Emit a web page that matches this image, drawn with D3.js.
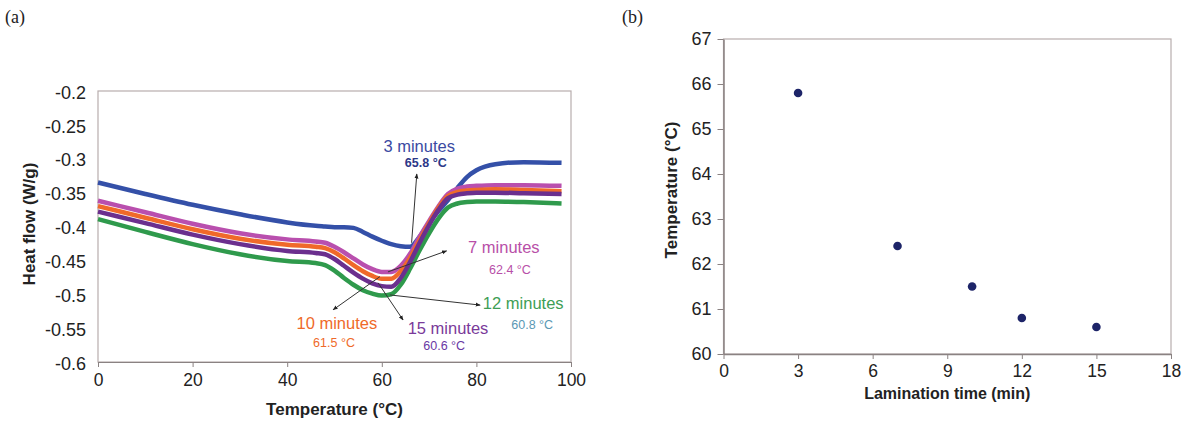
<html lang="en">
<head>
<meta charset="utf-8">
<title>DSC curves and peak temperature</title>
<script src="https://d3js.org/d3.v7.min.js"></script>
<style>
  body { margin: 0; background: #fff; }
  text { font-family: "Liberation Sans", Arial, sans-serif; fill: #222; }
  .panel { font-family: "Liberation Serif", "Times New Roman", serif; font-size: 18px; }
  .axis path, .axis line { stroke: #8a8282; }
  .border { fill: none; stroke: #b8adad; stroke-width: 1.2; }
</style>
</head>
<body>
<script>
// ---- data ----
var temps = [0, 10, 20, 30, 40, 46, 48, 50, 52, 54, 56, 58, 60, 62, 64, 66, 68, 70, 72, 74, 76, 78, 80, 84, 90, 98];
var min3  = [-0.335,-0.352,-0.368,-0.382,-0.394,-0.399,-0.400,-0.401,-0.401,-0.402,-0.408,-0.415,-0.421,-0.426,-0.429,-0.430,-0.415,-0.395,-0.377,-0.361,-0.343,-0.327,-0.317,-0.308,-0.305,-0.306];
var min7  = [-0.362,-0.379,-0.396,-0.410,-0.419,-0.422,-0.424,-0.430,-0.438,-0.447,-0.456,-0.463,-0.467,-0.467,-0.458,-0.440,-0.415,-0.392,-0.370,-0.352,-0.344,-0.341,-0.340,-0.339,-0.339,-0.340];
var min10 = [-0.370,-0.387,-0.404,-0.418,-0.427,-0.430,-0.432,-0.438,-0.447,-0.457,-0.466,-0.473,-0.477,-0.477,-0.466,-0.446,-0.420,-0.395,-0.372,-0.355,-0.349,-0.347,-0.346,-0.345,-0.346,-0.348];
var min15 = [-0.378,-0.395,-0.412,-0.426,-0.436,-0.439,-0.441,-0.448,-0.458,-0.468,-0.477,-0.484,-0.488,-0.489,-0.476,-0.452,-0.424,-0.398,-0.375,-0.358,-0.353,-0.351,-0.350,-0.350,-0.351,-0.352];
var min12 = [-0.389,-0.408,-0.426,-0.441,-0.451,-0.454,-0.457,-0.465,-0.476,-0.486,-0.494,-0.499,-0.502,-0.500,-0.486,-0.462,-0.435,-0.410,-0.388,-0.372,-0.366,-0.364,-0.363,-0.363,-0.364,-0.366];

var seriesNames  = ["12 minutes", "3 minutes", "7 minutes", "10 minutes", "15 minutes"];
var seriesValues = [min12, min3, min7, min10, min15];
var seriesColors = ["#2f9a4c", "#3450a8", "#b94fae", "#f0692a", "#6b2f8e"];

var heatTicks = [-0.6, -0.55, -0.5, -0.45, -0.4, -0.35, -0.3, -0.25, -0.2];
var tempTicks = [0, 20, 40, 60, 80, 100];

// lamination time vs peak temperature
var lamTime = [3, 7, 10, 12, 15];
var peakTemp = [65.8, 62.4, 61.5, 60.8, 60.6];
var lamTicks = [0, 3, 6, 9, 12, 15, 18];
var peakTicks = [60, 61, 62, 63, 64, 65, 66, 67];

// ---- svg ----
var w = 1185, h = 423;
var svg = d3.select("body").append("svg").attr("width", w).attr("height", h);

svg.append("defs").append("marker")
   .attr("id", "arrow")
   .attr("viewBox", "0 0 10 10")
   .attr("refX", 9).attr("refY", 5)
   .attr("markerWidth", 5).attr("markerHeight", 5)
   .attr("orient", "auto")
   .append("path").attr("d", "M0,1 L10,5 L0,9 z").attr("fill", "#222");

svg.append("text").attr("class", "panel").attr("x", 5).attr("y", 23).text("(a)");
svg.append("text").attr("class", "panel").attr("x", 622).attr("y", 23).text("(b)");

// ===== panel (a) =====
var xA = d3.scaleLinear().domain([0, 100]).range([98, 571]);
var yA = d3.scaleLinear().domain([-0.6, -0.2]).range([362, 91]);

svg.append("rect").attr("class", "border")
   .attr("x", xA(0)).attr("y", yA(-0.2))
   .attr("width", xA(100) - xA(0)).attr("height", yA(-0.6) - yA(-0.2));

svg.append("g").attr("class", "axis")
   .attr("transform", "translate(0," + yA(-0.6) + ")")
   .call(d3.axisBottom(xA).tickValues(tempTicks).tickSize(5).tickPadding(7).tickSizeOuter(0))
   .call(function(g) { g.selectAll("text").attr("font-size", "17.5px").attr("fill", "#222"); g.select(".domain").attr("stroke", "#888"); });

svg.append("g").attr("class", "axis")
   .attr("transform", "translate(" + xA(0) + ",0)")
   .call(d3.axisLeft(yA).tickValues(heatTicks).tickFormat(function(d) { return String(+d.toFixed(2)); }).tickSize(0).tickPadding(12))
   .call(function(g) { g.select(".domain").remove(); g.selectAll("text").attr("font-size", "18px").attr("fill", "#222").attr("dy", "0.4em"); });

var line = d3.line()
   .x(function(d) { return xA(d[0]); })
   .y(function(d) { return yA(d[1]); })
   .curve(d3.curveMonotoneX);

seriesValues.forEach(function(vals, i) {
  svg.append("path")
     .datum(temps.map(function(t, j) { return [t, vals[j]]; }))
     .attr("d", line)
     .attr("fill", "none")
     .attr("stroke", seriesColors[i])
     .attr("stroke-width", 4.5)
     .attr("stroke-linejoin", "round");
});

// annotations: arrow from curve to label, label and peak temperature
var notes = [
  { name: "3 minutes",  peak: "65.8 °C", c1: "#3b4aa2", c2: "#2d3888", from: [66.3, -0.424], to: [67.4, -0.3225], lab: [67.9, -0.281], val: [69.3, -0.306], bold: true },
  { name: "7 minutes",  peak: "62.4 °C", c1: "#b84fa8", c2: "#b84fa8", from: [61.3, -0.467], to: [73.7, -0.436], lab: [85.8, -0.430], val: [87.1, -0.463] },
  { name: "12 minutes", peak: "60.8 °C", c1: "#3e9e55", c2: "#5a98b4", from: [61.7, -0.501], to: [80.8, -0.516], lab: [89.9, -0.513], val: [91.8, -0.545] },
  { name: "10 minutes", peak: "61.5 °C", c1: "#ef6a2a", c2: "#ef6a2a", from: [59.6, -0.474], to: [49.7, -0.523], lab: [50.5, -0.543], val: [49.9, -0.571] },
  { name: "15 minutes", peak: "60.6 °C", c1: "#7a3a9a", c2: "#6a38a4", from: [59.2, -0.483], to: [64.5, -0.538], lab: [74.0, -0.550], val: [73.2, -0.576] }
];

notes.forEach(function(n) {
  svg.append("line")
     .attr("x1", xA(n.from[0])).attr("y1", yA(n.from[1]))
     .attr("x2", xA(n.to[0])).attr("y2", yA(n.to[1]))
     .attr("stroke", "#333").attr("stroke-width", 1)
     .attr("marker-end", "url(#arrow)");
  svg.append("text")
     .attr("x", xA(n.lab[0])).attr("y", yA(n.lab[1]))
     .attr("dy", "0.35em").attr("text-anchor", "middle")
     .attr("font-size", "16.5px").style("fill", n.c1)
     .text(n.name);
  svg.append("text")
     .attr("x", xA(n.val[0])).attr("y", yA(n.val[1]))
     .attr("dy", "0.35em").attr("text-anchor", "middle")
     .attr("font-size", "12.5px").attr("font-weight", n.bold ? "bold" : "normal").style("fill", n.c2)
     .text(n.peak);
});

svg.append("text")
   .attr("x", (xA(0) + xA(100)) / 2).attr("y", 415)
   .attr("text-anchor", "middle").attr("font-size", "17px").attr("font-weight", "bold")
   .text("Temperature (°C)");

svg.append("text")
   .attr("transform", "translate(35,224) rotate(-90)")
   .attr("text-anchor", "middle").attr("font-size", "17px").attr("font-weight", "bold")
   .text("Heat flow (W/g)");

// ===== panel (b) =====
var xB = d3.scaleLinear().domain([0, 18]).range([723.5, 1171]);
var yB = d3.scaleLinear().domain([60, 67]).range([354, 39]);

svg.append("rect").attr("class", "border")
   .attr("x", xB(0)).attr("y", yB(67))
   .attr("width", xB(18) - xB(0)).attr("height", yB(60) - yB(67));

svg.append("g").attr("class", "axis")
   .attr("transform", "translate(0," + yB(60) + ")")
   .call(d3.axisBottom(xB).tickValues(lamTicks).tickSize(5).tickPadding(6).tickSizeOuter(0))
   .call(function(g) { g.selectAll("text").attr("font-size", "17.5px").attr("fill", "#222"); g.select(".domain").attr("stroke", "#888").attr("stroke-width", 1.5); });

svg.append("g").attr("class", "axis")
   .attr("transform", "translate(" + xB(0) + ",0)")
   .call(d3.axisLeft(yB).tickValues(peakTicks).tickFormat(d3.format("d")).tickSize(6).tickPadding(6).tickSizeOuter(0))
   .call(function(g) { g.selectAll("text").attr("font-size", "18px").attr("fill", "#222"); g.select(".domain").attr("stroke", "#888").attr("stroke-width", 1.5); });

svg.selectAll("circle.pt")
   .data(lamTime)
   .enter()
   .append("circle")
   .attr("class", "pt")
   .attr("cx", function(d) { return xB(d); })
   .attr("cy", function(d, i) { return yB(peakTemp[i]); })
   .attr("r", 4.3)
   .attr("fill", "#1d2468");

svg.append("text")
   .attr("x", (xB(0) + xB(18)) / 2).attr("y", 399)
   .attr("text-anchor", "middle").attr("font-size", "16px").attr("font-weight", "bold")
   .text("Lamination time (min)");

svg.append("text")
   .attr("transform", "translate(677,190) rotate(-90)")
   .attr("text-anchor", "middle").attr("font-size", "17px").attr("font-weight", "bold")
   .text("Temperature (°C)");
</script>
</body>
</html>
